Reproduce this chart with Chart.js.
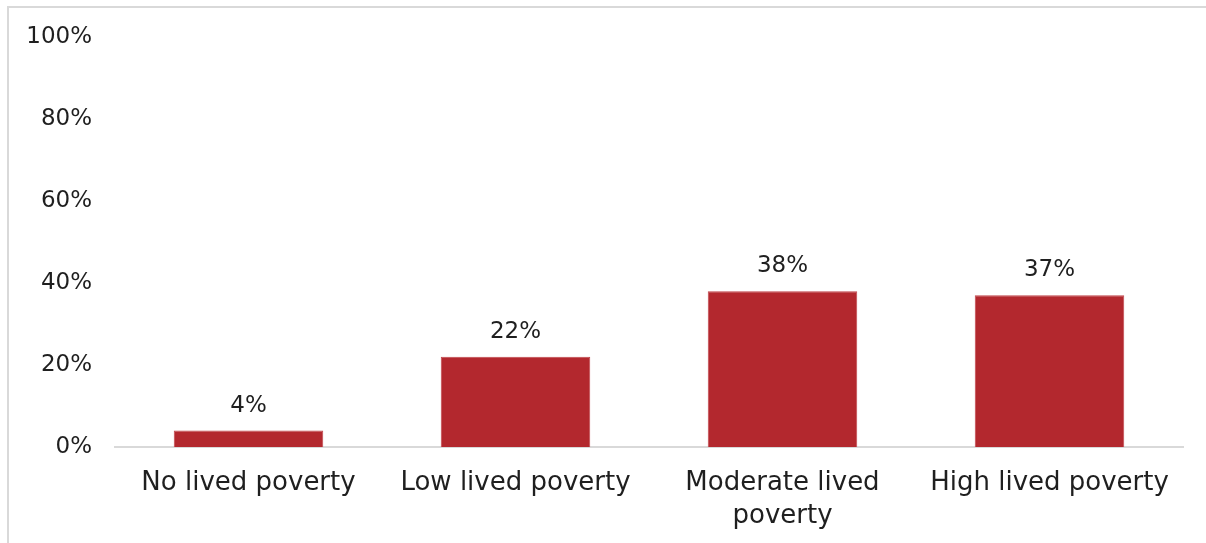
<!DOCTYPE html>
<html>
<head>
<meta charset="utf-8">
<script src="https://cdn.jsdelivr.net/npm/chart.js@4"></script>
<style>
    body { margin: 0; background: #fff; }
    #wrap { position: relative; width: 1206px; height: 543px; }
    #frame {
        position: absolute; left: 7px; top: 6px; right: 0; bottom: 0;
        border-left: 2px solid #d9d9d9; border-top: 2px solid #d9d9d9;
        pointer-events: none;
    }
</style>
</head>
<body>
<div id="wrap">
    <canvas id="povertyChart" width="1206" height="543"></canvas>
    <div id="frame"></div>
</div>
<script>
// Share of respondents by lived poverty level
const categories = ['No lived poverty', 'Low lived poverty', ['Moderate lived', 'poverty'], 'High lived poverty'];
const shares = [4, 22, 38, 37];
const yTicks = [0, 20, 40, 60, 80, 100];

const textColor = '#1f1f1f';
const fontFamily = '"DejaVu Sans", sans-serif';

// Draws the value above each bar
const valueLabels = {
    id: 'valueLabels',
    afterDatasetsDraw(chart) {
        const ctx = chart.ctx;
        const meta = chart.getDatasetMeta(0);
        ctx.save();
        ctx.font = '23px ' + fontFamily;
        ctx.fillStyle = textColor;
        ctx.textAlign = 'center';
        ctx.textBaseline = 'middle';
        meta.data.forEach((bar, i) => {
            ctx.fillText(shares[i] + '%', bar.x, bar.y - 25);
        });
        ctx.restore();
    }
};

const ctx = document.getElementById('povertyChart').getContext('2d');
const povertyChart = new Chart(ctx, {
    type: 'bar',
    data: {
        labels: categories,
        datasets: [{
            data: shares,
            backgroundColor: '#b3282e',
            borderColor: '#c0444a',
            borderWidth: 1,
            categoryPercentage: 1,
            barPercentage: 0.56
        }]
    },
    options: {
        responsive: false,
        animation: false,
        layout: { padding: { top: 37, right: 23, bottom: 0, left: 0 } },
        plugins: {
            legend: { display: false },
            tooltip: { enabled: false }
        },
        scales: {
            x: {
                grid: { display: false, drawTicks: false },
                border: { color: '#d9d9d9', width: 2 },
                ticks: {
                    color: textColor,
                    font: { family: fontFamily, size: 26, lineHeight: 1.27 },
                    padding: 20,
                    maxRotation: 0,
                    autoSkip: false
                },
                afterFit: scale => { scale.height = 96; }
            },
            y: {
                min: 0,
                max: 100,
                grid: { display: false, drawTicks: false },
                border: { display: false },
                afterBuildTicks: scale => { scale.ticks = yTicks.map(v => ({ value: v })); },
                ticks: {
                    color: textColor,
                    font: { family: fontFamily, size: 23 },
                    padding: 23,
                    callback: v => v + '%'
                },
                afterFit: scale => { scale.width = 115; }
            }
        }
    },
    plugins: [valueLabels]
});
</script>
</body>
</html>
